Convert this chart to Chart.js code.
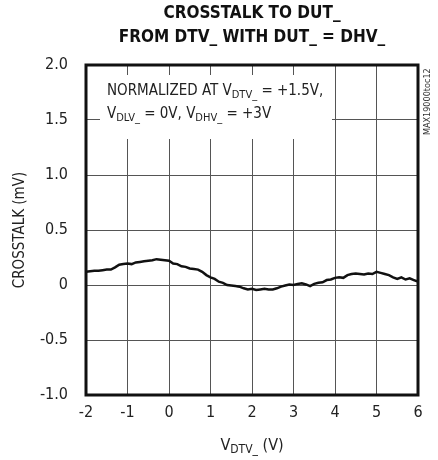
<!DOCTYPE html>
<html>
<head>
<meta charset="utf-8">
<script src="https://cdn.jsdelivr.net/npm/chart.js@4"></script>
<style>
html,body{margin:0;padding:0;background:#fff;}
#wrap{width:438px;height:460px;position:relative;}
</style>
</head>
<body>
<div id="wrap"><canvas id="c" width="438" height="460"></canvas></div>
<script>
const titleLines = ["CROSSTALK TO DUT_", "FROM DTV_ WITH DUT_ = DHV_"];
const yAxisTitle = "CROSSTALK (mV)";
const xTickValues = [-2, -1, 0, 1, 2, 3, 4, 5, 6];
const yTickValues = [2.0, 1.5, 1.0, 0.5, 0, -0.5, -1.0];
const vdtv = [-2.0,-1.9,-1.8,-1.7,-1.6,-1.5,-1.4,-1.3,-1.2,-1.1,-1.0,-0.9,-0.8,-0.7,-0.6,-0.5,-0.4,-0.3,-0.2,-0.1,
  0.0,0.1,0.2,0.3,0.4,0.5,0.6,0.7,0.8,0.9,1.0,1.1,1.2,1.3,1.4,1.5,1.6,1.7,1.8,1.9,
  2.0,2.1,2.2,2.3,2.4,2.5,2.6,2.7,2.8,2.9,3.0,3.1,3.2,3.3,3.4,3.5,3.6,3.7,3.8,3.9,
  4.0,4.1,4.2,4.3,4.4,4.5,4.6,4.7,4.8,4.9,5.0,5.1,5.2,5.3,5.4,5.5,5.6,5.7,5.8,5.9,6.0];
const crosstalk = [0.12,0.125,0.13,0.13,0.135,0.14,0.14,0.16,0.185,0.19,0.195,0.19,0.205,0.21,0.215,0.22,0.225,0.235,0.23,0.225,
  0.22,0.195,0.19,0.17,0.165,0.15,0.145,0.14,0.12,0.09,0.07,0.055,0.03,0.02,0.0,-0.005,-0.01,-0.015,-0.03,-0.04,
  -0.035,-0.045,-0.04,-0.035,-0.04,-0.04,-0.03,-0.015,-0.005,0.005,0.0,0.01,0.015,0.005,-0.01,0.01,0.02,0.025,0.045,0.05,
  0.065,0.07,0.065,0.09,0.1,0.105,0.1,0.095,0.105,0.1,0.12,0.11,0.1,0.09,0.07,0.055,0.07,0.05,0.06,0.045,0.03];

const NARROW = "'Liberation Sans Narrow','Arial Narrow','DejaVu Sans Condensed',sans-serif";

function drawRich(ctx, segs, x, y, size, subSize) {
  let cx = x;
  for (const s of segs) {
    ctx.font = (s.sub ? subSize : size) + "px " + NARROW;
    ctx.fillText(s.t, cx, s.sub ? y + 3 : y);
    cx += ctx.measureText(s.t).width;
  }
}

const overlay = {
  id: 'overlay',
  afterDraw(chart) {
    const ctx = chart.ctx, a = chart.chartArea;
    ctx.save();
    // annotation box
    ctx.fillStyle = '#fff';
    ctx.fillRect(a.left + 14, a.top + 10, 232, 64);
    ctx.fillStyle = '#222';
    ctx.textAlign = 'left';
    ctx.textBaseline = 'alphabetic';
    drawRich(ctx, [{t:"NORMALIZED AT V"},{t:"DTV_",sub:1},{t:" = +1.5V,"}], a.left + 21, a.top + 30, 15, 11);
    drawRich(ctx, [{t:"V"},{t:"DLV_",sub:1},{t:" = 0V, V"},{t:"DHV_",sub:1},{t:" = +3V"}], a.left + 21, a.top + 53, 15, 11);
    // frame
    ctx.strokeStyle = '#111';
    ctx.lineWidth = 3;
    ctx.strokeRect(a.left, a.top, a.right - a.left, a.bottom - a.top);
    // title
    ctx.fillStyle = '#111';
    ctx.textAlign = 'center';
    ctx.font = "bold 17px " + NARROW;
    const cxT = (a.left + a.right) / 2;
    ctx.fillText(titleLines[0], cxT, 18);
    ctx.fillText(titleLines[1], cxT, 42);
    // x axis title
    ctx.textAlign = 'left';
    ctx.fillStyle = '#222';
    const segs = [{t:"V"},{t:"DTV_",sub:1},{t:" (V)"}];
    let w = 0;
    for (const s of segs) { ctx.font = (s.sub ? 12 : 16) + "px " + NARROW; w += ctx.measureText(s.t).width; }
    drawRich(ctx, segs, cxT - w / 2, 450, 16, 12);
    // side code
    ctx.translate(428, a.top + 70);
    ctx.rotate(-Math.PI / 2);
    ctx.font = "9px " + NARROW;
    ctx.fillStyle = '#333';
    ctx.textAlign = 'left';
    ctx.textBaseline = 'middle';
    ctx.fillText("MAX19000toc12", 0, 0);
    ctx.restore();
  }
};

new Chart(document.getElementById('c'), {
  type: 'line',
  data: {
    datasets: [{
      data: vdtv.map((x, i) => ({x: x, y: crosstalk[i]})),
      borderColor: '#111',
      borderWidth: 2.5,
      pointRadius: 0,
      tension: 0,
      fill: false
    }]
  },
  options: {
    responsive: false,
    animation: false,
    devicePixelRatio: 1,
    layout: { padding: { top: 65, right: 20, left: 0, bottom: 0 } },
    plugins: { legend: { display: false }, tooltip: { enabled: false }, title: { display: false } },
    scales: {
      x: {
        type: 'linear', min: -2, max: 6,
        afterBuildTicks(s) { s.ticks = xTickValues.map(v => ({value: v})); },
        afterFit(s) { s.height = 65; },
        ticks: { color: '#222', font: { size: 16, family: NARROW }, padding: 8, maxRotation: 0,
          callback: v => String(v) },
        grid: { color: '#555', lineWidth: 1, drawTicks: false },
        border: { display: false }
      },
      y: {
        min: -1, max: 2,
        afterBuildTicks(s) { s.ticks = yTickValues.map(v => ({value: v})); },
        afterFit(s) { s.width = 86; },
        ticks: { color: '#222', font: { size: 16, family: NARROW }, padding: 18,
          callback: v => v === 0 ? "0" : Number(v).toFixed(1) },
        grid: { color: '#555', lineWidth: 1, drawTicks: false },
        border: { display: false },
        title: { display: true, text: yAxisTitle, color: '#222', font: { size: 15, family: NARROW }, padding: { top: 11, bottom: 0 } }
      }
    }
  },
  plugins: [overlay]
});
</script>
</body>
</html>
